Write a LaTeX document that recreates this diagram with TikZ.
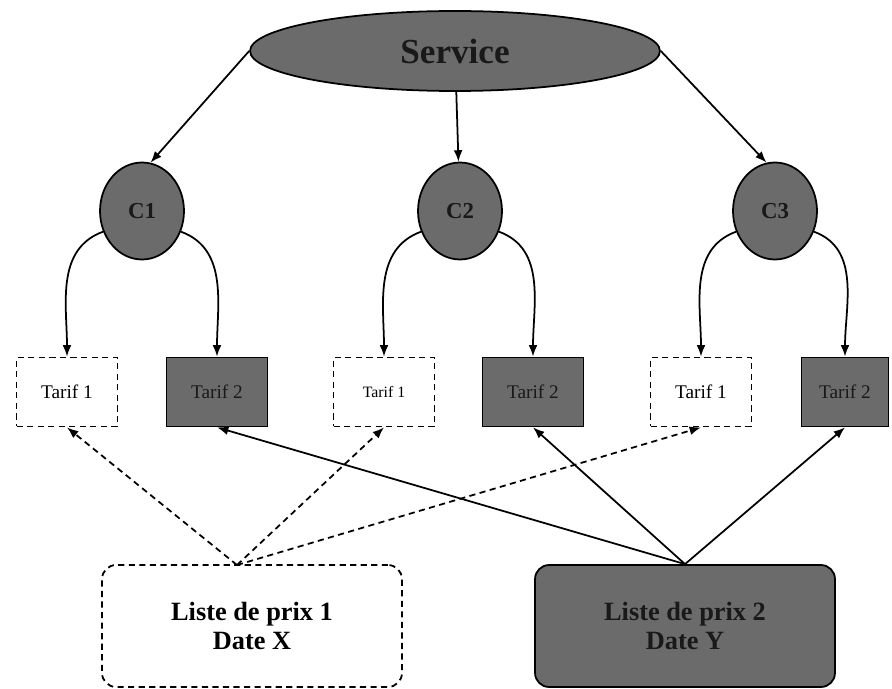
\documentclass[tikz,border=0pt]{standalone}
\usepackage{fontspec}
\setmainfont{Liberation Serif}
\usetikzlibrary{positioning, arrows.meta, shapes.geometric}
\definecolor{dotgray}{gray}{0.42}

\tikzset{
  dark/.style={draw=black, line width=1pt, fill=dotgray, text=black!90},
  light/.style={draw=black, line width=1pt, dash pattern=on 3.5pt off 2.5pt, fill=white},
  tarif/.style={rectangle, minimum width=2.02cm, minimum height=1.38cm, inner sep=0pt, font=\fontsize{11}{13}\selectfont},
  comp/.style={ellipse, minimum width=1.68cm, minimum height=1.94cm, inner sep=0pt, font=\bfseries\fontsize{13}{15}\selectfont},
  liste/.style={rectangle, rounded corners=8pt, minimum width=6cm, minimum height=2.44cm, align=center, font=\bfseries\fontsize{15}{17}\selectfont},
  conn/.style={line width=1pt, -{Latex[length=6.5pt,width=5pt]}},
  dashconn/.style={conn, dash pattern=on 3.5pt off 2.5pt},
}

\begin{document}
\begin{tikzpicture}[x=0.02cm, y=-0.02cm]
  \useasboundingbox (0,0) rectangle (892,689);

  % Service at the top
  \node[dark, ellipse, minimum width=8.2cm, minimum height=1.6cm, inner sep=0pt, font=\bfseries\fontsize{20}{24}\selectfont] (svc) at (455,51) {Service};

  % Components
  \node[dark, comp] (c1) at (142,211) {C1};
  \node[dark, comp] (c2) at (460,211) {C2};
  \node[dark, comp] (c3) at (775,211) {C3};

  % Tariffs
  \node[light, tarif] (t11) at (67,392) {Tarif 1};
  \node[dark, tarif] (t12) at (217,392) {Tarif 2};
  \node[light, tarif, font=\fontsize{9}{11}\selectfont] (t21) at (384,392) {Tarif 1};
  \node[dark, tarif] (t22) at (533,392) {Tarif 2};
  \node[light, tarif] (t31) at (701,392) {Tarif 1};
  \node[dark, tarif, minimum width=1.74cm] (t32) at (845,392) {Tarif 2};

  % Price lists
  \node[light, liste] (lp1) at (252,626) {Liste de prix 1\\Date X};
  \node[dark, liste] (lp2) at (685,626) {Liste de prix 2\\Date Y};
  \coordinate (fromX) at (237,565);

  % Service to components
  \draw[conn] (svc.west) -- (c1.80);
  \draw[conn] (svc) -- (c2);
  \draw[conn] (svc.east) -- (c3.100);

  % Components to tariffs
  \draw[conn] (c1.208) to[out=200, in=90] (t11.north);
  \draw[conn] (c1.-28) to[out=-20, in=90] (t12.north);
  \draw[conn] (c2.208) to[out=200, in=90] (t21.north);
  \draw[conn] (c2.-28) to[out=-20, in=90] (t22.north);
  \draw[conn] (c3.208) to[out=200, in=90] (t31.north);
  \draw[conn] (c3.-28) to[out=-20, in=90] (t32.north);

  % Price list 1 to Tarif 1
  \draw[dashconn] (fromX) -- (t11.south);
  \draw[dashconn] (fromX) -- (t21.south);
  \draw[dashconn] (fromX) -- (t31.south);

  % Price list 2 to Tarif 2
  \draw[conn] (lp2.north) -- (t12.south);
  \draw[conn] (lp2.north) -- (t22.south);
  \draw[conn] (lp2.north) -- (t32.south);

\end{tikzpicture}
\end{document}
